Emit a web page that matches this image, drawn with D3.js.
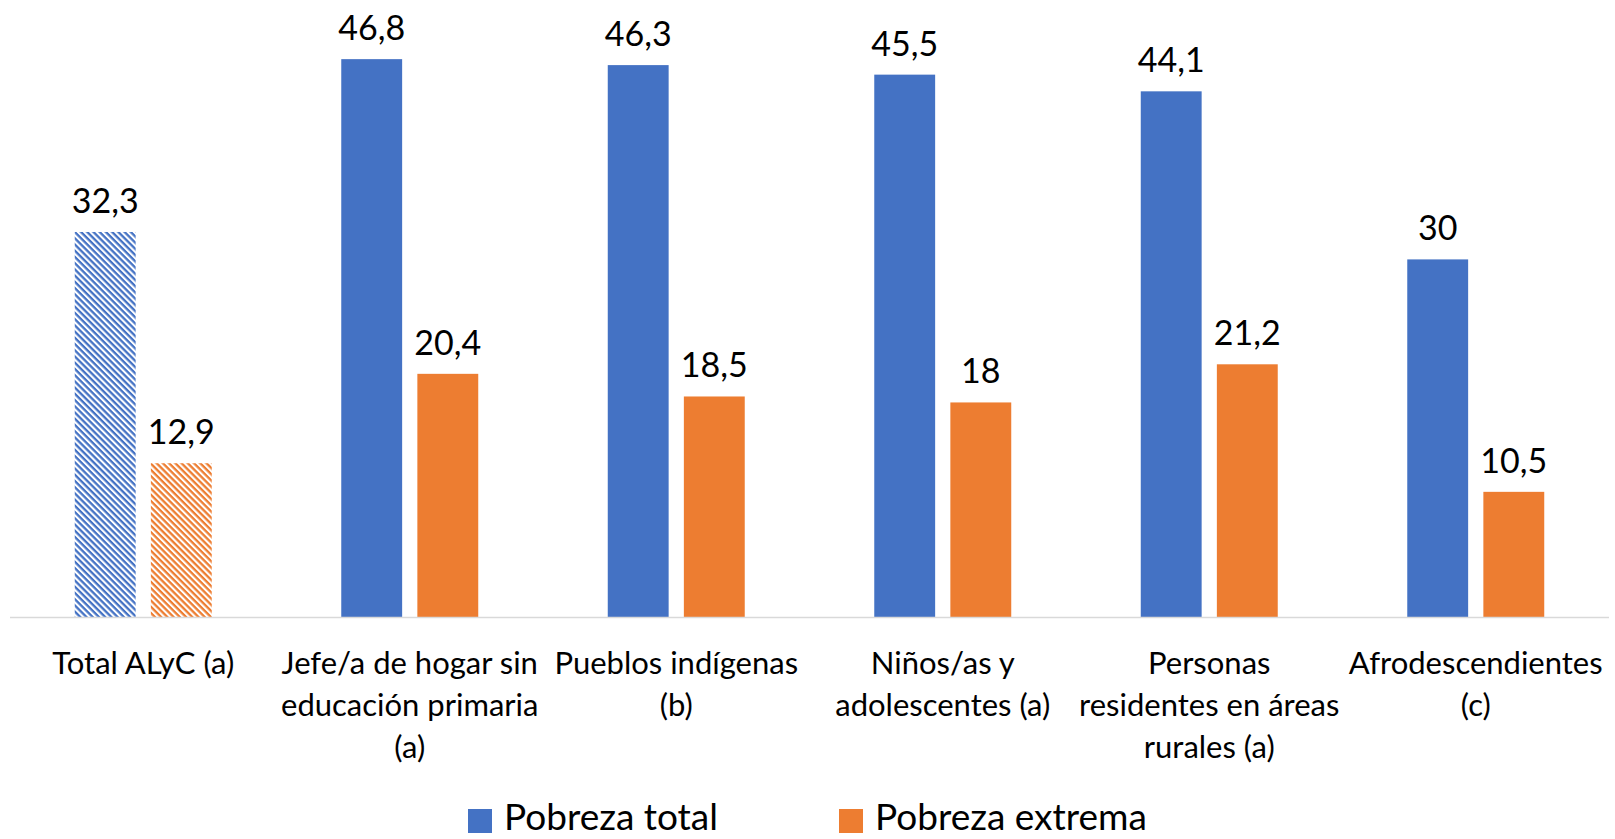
<!DOCTYPE html>
<html>
<head>
<meta charset="utf-8">
<script src="https://cdn.jsdelivr.net/npm/d3@7/dist/d3.min.js"></script>
<style>
  body { margin: 0; background: #fff; }
  svg { display: block; font-family: Lato, "Open Sans", sans-serif; }
</style>
</head>
<body>
<svg id="chart"></svg>
<script>
// data
const categories = ["Total ALyC (a)", "Jefe/a de hogar sin educación primaria (a)", "Pueblos indígenas (b)",
    "Niños/as y adolescentes (a)", "Personas residentes en áreas rurales (a)", "Afrodescendientes (c)"];
const tickLines = [
    ["Total ALyC (a)"],
    ["Jefe/a de hogar sin", "educación primaria", "(a)"],
    ["Pueblos indígenas", "(b)"],
    ["Niños/as y", "adolescentes (a)"],
    ["Personas", "residentes en áreas", "rurales (a)"],
    ["Afrodescendientes", "(c)"]
];
const seriesNames = ["Pobreza total", "Pobreza extrema"];
const pobrezaTotal = [32.3, 46.8, 46.3, 45.5, 44.1, 30];
const pobrezaExtrema = [12.9, 20.4, 18.5, 18, 21.2, 10.5];
const valueLabels = [
    ["32,3", "46,8", "46,3", "45,5", "44,1", "30"],
    ["12,9", "20,4", "18,5", "18", "21,2", "10,5"]
];
const hatchedCategories = ["Total ALyC (a)"];

const width = 1615, height = 839;
const colors = ["#4472C4", "#ED7D31"];

const svg = d3.select("#chart")
    .attr("width", width)
    .attr("height", height);

// hatch patterns for the total bars (downward diagonal)
const defs = svg.append("defs");
colors.forEach((c, i) => {
    const p = defs.append("pattern")
        .attr("id", "hatch" + i)
        .attr("patternUnits", "userSpaceOnUse")
        .attr("width", 4.4)
        .attr("height", 4.4)
        .attr("patternTransform", "rotate(45)");
    p.append("rect").attr("width", 4.4).attr("height", 4.4).attr("fill", "#fff");
    p.append("rect").attr("width", 4.4).attr("height", 2.3).attr("fill", c);
});

const x = d3.scaleBand()
    .domain(categories)
    .range([10, 1609])
    .paddingInner(0)
    .paddingOuter(0);

const x1 = d3.scaleBand()
    .domain(seriesNames)
    .range([x.bandwidth() * 0.243, x.bandwidth() * 0.757])
    .paddingInner(0.2)
    .paddingOuter(0);

const y = d3.scaleLinear()
    .domain([0, 50])
    .range([617, 21]);

const seriesData = [pobrezaTotal, pobrezaExtrema];

seriesNames.forEach((name, si) => {
    const g = svg.append("g").attr("class", "series");
    g.selectAll("rect")
        .data(categories)
        .join("rect")
        .attr("x", d => x(d) + x1(name))
        .attr("width", x1.bandwidth())
        .attr("y", (d, i) => y(seriesData[si][i]))
        .attr("height", (d, i) => y(0) - y(seriesData[si][i]))
        .attr("fill", d => hatchedCategories.includes(d) ? "url(#hatch" + si + ")" : colors[si]);

    g.selectAll("text")
        .data(categories)
        .join("text")
        .attr("x", d => x(d) + x1(name) + x1.bandwidth() / 2)
        .attr("y", (d, i) => y(seriesData[si][i]) - 19)
        .attr("text-anchor", "middle")
        .attr("font-size", 34)
        .attr("fill", "#000")
        .text((d, i) => valueLabels[si][i]);
});

// category axis
svg.append("line")
    .attr("x1", x.range()[0]).attr("x2", x.range()[1])
    .attr("y1", y(0) + 0.5).attr("y2", y(0) + 0.5)
    .attr("stroke", "#D9D9D9")
    .attr("stroke-width", 1.5);

const ticks = svg.append("g").attr("class", "ticks");
categories.forEach((c, i) => {
    const t = ticks.append("text")
        .attr("x", x(c) + x.bandwidth() / 2)
        .attr("y", 674)
        .attr("text-anchor", "middle")
        .attr("font-size", 31)
        .attr("fill", "#000");
    tickLines[i].forEach((line, j) => {
        t.append("tspan")
            .attr("x", x(c) + x.bandwidth() / 2)
            .attr("y", 674 + j * 42)
            .text(line);
    });
});

// legend
const legendX = [468, 839];
const legend = svg.append("g").attr("class", "legend");
seriesNames.forEach((name, i) => {
    legend.append("rect")
        .attr("x", legendX[i])
        .attr("y", 809)
        .attr("width", 24)
        .attr("height", 24)
        .attr("fill", colors[i]);
    legend.append("text")
        .attr("x", legendX[i] + 36)
        .attr("y", 830)
        .attr("font-size", 37)
        .attr("fill", "#000")
        .text(name);
});
</script>
</body>
</html>
